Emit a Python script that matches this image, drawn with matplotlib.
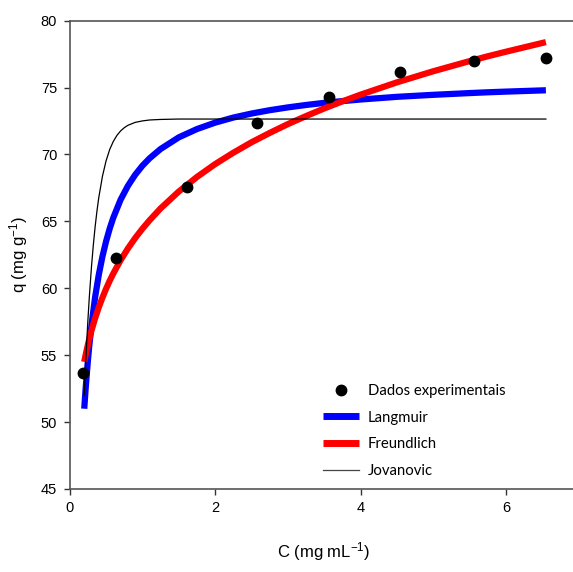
import matplotlib.pyplot as plt

# experimental points
c_exp = [0.18, 0.64, 1.61, 2.58, 3.57, 4.55, 5.56, 6.55]
q_exp = [53.7, 62.3, 67.6, 72.35, 74.3, 76.2, 77.0, 77.2]

# fitted curves
c_fit = [0.2, 0.22, 0.25, 0.27, 0.3, 0.35, 0.4, 0.45, 0.5, 0.55,
         0.6, 0.7, 0.8, 0.9, 1.0, 1.1, 1.25, 1.5, 1.75, 2.0,
         2.25, 2.5, 2.75, 3.0, 3.25, 3.5, 3.75, 4.0, 4.5, 5.0,
         5.5, 5.75, 6.0, 6.55]
q_langmuir = [51.0, 52.56, 54.58, 55.74, 57.26, 59.35, 61.01, 62.37, 63.50, 64.46,
              65.28, 66.62, 67.65, 68.48, 69.16, 69.72, 70.41, 71.28, 71.90, 72.38,
              72.76, 73.06, 73.31, 73.52, 73.70, 73.86, 73.99, 74.11, 74.31, 74.46,
              74.59, 74.65, 74.70, 74.80]
q_freundlich = [54.5, 55.04, 55.78, 56.23, 56.85, 57.77, 58.58, 59.30, 59.96, 60.56,
                61.11, 62.10, 62.97, 63.75, 64.45, 65.09, 65.97, 67.23, 68.32, 69.28,
                70.13, 70.91, 71.61, 72.27, 72.87, 73.44, 73.97, 74.47, 75.39, 76.22,
                76.98, 77.34, 77.68, 78.4]

c_jov = [0.2, 0.21, 0.22, 0.23, 0.24, 0.25, 0.27, 0.3, 0.325, 0.35, 0.375, 0.4,
         0.45, 0.5, 0.55, 0.6, 0.65, 0.7, 0.75, 0.8, 0.9, 1.0, 1.1, 1.25, 1.5,
         2.0, 4.0, 6.55]
q_jov = [52.0, 53.26, 54.44, 55.55, 56.59, 57.57, 59.36, 61.64, 63.24, 64.61, 65.78, 66.78,
         68.36, 69.52, 70.37, 70.98, 71.43, 71.76, 72.00, 72.18, 72.40, 72.51, 72.58, 72.62,
         72.65, 72.65, 72.65, 72.65]

plt.rcParams['font.family'] = ['Liberation Sans', 'DejaVu Sans']
plt.rcParams['mathtext.fontset'] = 'custom'
plt.rcParams['mathtext.rm'] = 'Liberation Sans'
plt.rcParams['mathtext.it'] = 'Liberation Sans'

fig = plt.figure(figsize=(5.73, 5.72), dpi=100)
W, H = 573.0, 572.0
left, top, bottom = 69.7, 20.7, 489.0
ax = fig.add_axes([left / W, 1 - bottom / H, 7 * 72.7 / W, (bottom - top) / H])

ax.plot(c_exp, q_exp, 'o', color='black', ms=7.5, label='Dados experimentais', zorder=5)
ax.plot(c_fit, q_langmuir, color='#0000ff', lw=4.5, label='Langmuir', solid_capstyle='butt')
ax.plot(c_fit, q_freundlich, color='#ff0000', lw=4.5, label='Freundlich', solid_capstyle='butt')
ax.plot(c_jov, q_jov, color='black', lw=0.9, label='Jovanovic')

ax.set_xlim(0, 7)
ax.set_ylim(45, 80)
ax.set_xticks([0, 2, 4, 6])
ax.set_yticks(range(45, 81, 5))

for s in ['left', 'bottom', 'top', 'right']:
    ax.spines[s].set_color('#555555')
    ax.spines[s].set_linewidth(1.2)
ax.tick_params(direction='out', length=4, width=1, color='#333333',
               labelsize=10.5, pad=5)

ax.set_xlabel(r'C (mg mL$^{\mathrm{-1}}$)', fontsize=12, labelpad=18)
ax.set_ylabel(r'q (mg g$^{\mathrm{-1}}$)', fontsize=12, labelpad=8)

leg = ax.legend(loc='upper left', bbox_to_anchor=(323 / W, 1 - 384 / H),
                bbox_transform=fig.transFigure, frameon=False, borderpad=0,
                borderaxespad=0, handlelength=2.4, handletextpad=0.6,
                labelspacing=0.85, numpoints=1,
                prop={'family': 'Lato', 'size': 10.7})
for h in leg.legend_handles[1:3]:
    h.set_linewidth(5)
leg.legend_handles[3].set_color('#444444')

fig.savefig('out.png', dpi=100)
